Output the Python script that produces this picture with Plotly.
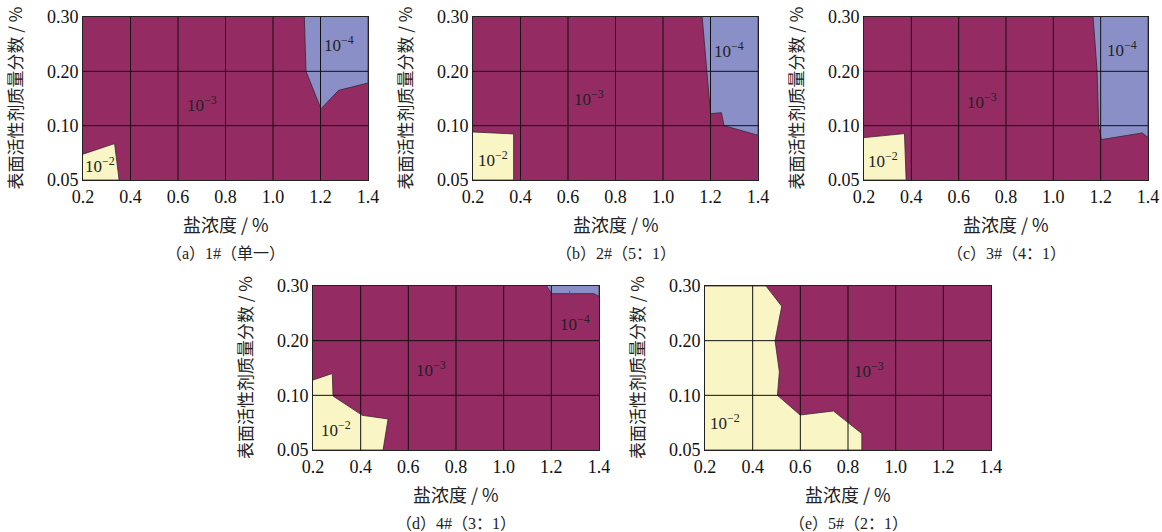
import numpy as np
import plotly.graph_objects as go

# Axis ticks (the surfactant axis uses equally spaced, non-uniform ticks)
SALT_TICKS = [0.2, 0.4, 0.6, 0.8, 1.0, 1.2, 1.4]
SALT_LABELS = ["0.2", "0.4", "0.6", "0.8", "1.0", "1.2", "1.4"]
SURF_TICKS = [0.05, 0.10, 0.20, 0.30]
SURF_LABELS = ["0.05", "0.10", "0.20", "0.30"]

PANEL_TITLES = ["（a）1#（单一）", "（b）2#（5：1）", "（c）3#（4：1）",
                "（d）4#（3：1）", "（e）5#（2：1）"]

# Region boundaries: salt concentration (%) vs surfactant mass fraction (%)
# 10^-2 zones
P1_E2_SALT = [0.2, 0.333, 0.352, 0.2]
P1_E2_SURF = [0.0738, 0.0835, 0.05, 0.05]
P2_E2_SALT = [0.2, 0.371, 0.371, 0.2]
P2_E2_SURF = [0.0942, 0.0924, 0.05, 0.05]
P3_E2_SALT = [0.2, 0.371, 0.378, 0.2]
P3_E2_SURF = [0.089, 0.0927, 0.05, 0.05]
P4_E2_SALT = [0.2, 0.281, 0.284, 0.407, 0.515, 0.494, 0.2]
P4_E2_SURF = [0.128, 0.140, 0.0994, 0.0817, 0.0784, 0.05, 0.05]
P5_E2_SALT = [0.2, 0.456, 0.522, 0.494, 0.512, 0.504, 0.599, 0.739, 0.858, 0.858, 0.2]
P5_E2_SURF = [0.30, 0.30, 0.263, 0.20, 0.143, 0.10, 0.082, 0.0857, 0.065, 0.05, 0.05]

# 10^-4 zones
P1_E4_SALT = [1.132, 1.139, 1.202, 1.276, 1.4, 1.4]
P1_E4_SURF = [0.30, 0.20, 0.131, 0.165, 0.1785, 0.30]
P2_E4_SALT = [1.165, 1.183, 1.2, 1.246, 1.257, 1.4, 1.4]
P2_E4_SURF = [0.30, 0.20, 0.122, 0.124, 0.10, 0.0912, 0.30]
P3_E4_SALT = [1.168, 1.185, 1.192, 1.203, 1.376, 1.4, 1.4]
P3_E4_SURF = [0.30, 0.20, 0.0988, 0.0872, 0.0933, 0.089, 0.30]
P4_E4_SALT = [1.18, 1.201, 1.379, 1.4, 1.4]
P4_E4_SURF = [0.30, 0.286, 0.286, 0.281, 0.30]

# Zone label anchors (salt, surfactant)
E3_LABEL_POS = [(0.70, 0.140), (0.689, 0.150), (0.697, 0.146), (0.697, 0.149), (0.886, 0.146)]
E2_LABEL_POS = [(0.27, 0.064), (0.284, 0.069), (0.279, 0.068), (0.298, 0.069), (0.284, 0.076)]
E4_LABEL_POS = [(1.276, 0.251), (1.278, 0.239), (1.292, 0.242), (1.30, 0.232), None]
P4_LEADER_SALT = [1.276, 1.289]
P4_LEADER_SURF = [0.291, 0.262]

E2_ZONES = [(P1_E2_SALT, P1_E2_SURF), (P2_E2_SALT, P2_E2_SURF), (P3_E2_SALT, P3_E2_SURF),
            (P4_E2_SALT, P4_E2_SURF), (P5_E2_SALT, P5_E2_SURF)]
E4_ZONES = [(P1_E4_SALT, P1_E4_SURF), (P2_E4_SALT, P2_E4_SURF), (P3_E4_SALT, P3_E4_SURF),
            (P4_E4_SALT, P4_E4_SURF), None]

PURPLE = "#952b63"
BLUE = "#8a90c7"
YELLOW = "#f9f5c4"
EDGE = "#3b2433"

W, H = 1162, 532
# plot rectangles in pixels: (left, right, top, bottom)
BOXES = [(83, 368, 17, 180), (473, 758, 17, 180), (864, 1148, 17, 180),
         (313, 599, 286, 450), (705, 991, 286, 450)]


def surf_pos(v):
    """Map surfactant fraction onto the evenly spaced tick scale."""
    return np.interp(np.asarray(v, dtype=float), SURF_TICKS, np.arange(len(SURF_TICKS)))


SERIF = "Liberation Serif, Noto Sans CJK SC"
CJK = "Noto Sans CJK SC, sans-serif"

fig = go.Figure()
layout = dict(width=W, height=H, margin=dict(l=0, r=0, t=0, b=0, pad=0),
              paper_bgcolor="white", plot_bgcolor=PURPLE, showlegend=False)
shapes = []
annotations = []

for i, (l, r, t, b) in enumerate(BOXES):
    k = "" if i == 0 else str(i + 1)
    xa, ya = "x" + k, "y" + k
    layout["xaxis" + k] = dict(
        domain=[l / W, r / W], range=[0.2, 1.4], anchor=ya, automargin=False,
        tickvals=SALT_TICKS, ticktext=SALT_LABELS, showgrid=False, zeroline=False,
        showline=True, mirror=True, linecolor="#222", linewidth=1, ticks="",
        tickfont=dict(family="Liberation Serif", size=18, color="#111"))
    layout["yaxis" + k] = dict(
        domain=[1 - b / H, 1 - t / H], range=[0, 3], anchor=xa, automargin=False,
        tickvals=list(range(len(SURF_TICKS))), ticktext=SURF_LABELS,
        showgrid=False, zeroline=False, showline=True, mirror=True,
        linecolor="#222", linewidth=1, ticks="",
        tickfont=dict(family="Liberation Serif", size=18, color="#111"))

    # yellow (10^-2) and blue (10^-4) zones over the purple (10^-3) field
    sx, sy = E2_ZONES[i]
    fig.add_trace(go.Scatter(x=sx, y=surf_pos(sy), mode="lines", fill="toself",
                             fillcolor=YELLOW, line=dict(color=EDGE, width=0.8),
                             xaxis=xa, yaxis=ya, hoverinfo="skip"))
    if E4_ZONES[i] is not None:
        sx, sy = E4_ZONES[i]
        fig.add_trace(go.Scatter(x=sx, y=surf_pos(sy), mode="lines", fill="toself",
                                 fillcolor=BLUE, line=dict(color=EDGE, width=0.8),
                                 xaxis=xa, yaxis=ya, hoverinfo="skip"))
    if i == 3:
        fig.add_trace(go.Scatter(x=P4_LEADER_SALT, y=surf_pos(P4_LEADER_SURF), mode="lines",
                                 line=dict(color="#555", width=0.8, dash="dot"),
                                 xaxis=xa, yaxis=ya, hoverinfo="skip"))

    # grid drawn on top of the zones
    for xv in SALT_TICKS[1:-1]:
        shapes.append(dict(type="line", xref=xa, yref=ya, x0=xv, x1=xv, y0=0, y1=3,
                           line=dict(color="#111", width=1), layer="above"))
    for yv in range(1, len(SURF_TICKS) - 1):
        shapes.append(dict(type="line", xref=xa, yref=ya, x0=0.2, x1=1.4, y0=yv, y1=yv,
                           line=dict(color="#111", width=1), layer="above"))

    # zone labels
    for pos, txt in ((E3_LABEL_POS[i], "10<sup>−3</sup>"), (E2_LABEL_POS[i], "10<sup>−2</sup>"),
                     (E4_LABEL_POS[i], "10<sup>−4</sup>")):
        if pos is None:
            continue
        annotations.append(dict(x=pos[0], y=float(surf_pos(pos[1])), xref=xa, yref=ya,
                                text=txt, showarrow=False, xanchor="center", yanchor="middle",
                                font=dict(family="Liberation Serif", size=17, color="#222")))

    # axis titles and panel caption
    cx = (l + r) / 2 / W
    annotations.append(dict(x=cx, y=1 - (b + 44) / H, xref="paper", yref="paper",
                            text="盐浓度 / %", showarrow=False,
                            xanchor="center", yanchor="middle",
                            font=dict(family=CJK, size=18, color="#222")))
    annotations.append(dict(x=cx, y=1 - (b + 73) / H, xref="paper", yref="paper",
                            text=PANEL_TITLES[i], showarrow=False,
                            xanchor="center", yanchor="middle",
                            font=dict(family=SERIF, size=16, color="#222")))
    annotations.append(dict(x=(l - 69) / W, y=1 - (t + b) / 2 / H, xref="paper", yref="paper",
                            text="表面活性剂质量分数 / %", showarrow=False, textangle=-90,
                            xanchor="center", yanchor="middle",
                            font=dict(family=CJK, size=17, color="#222")))

layout["shapes"] = shapes
layout["annotations"] = annotations
fig.update_layout(**layout)
fig.write_html("out.html")
